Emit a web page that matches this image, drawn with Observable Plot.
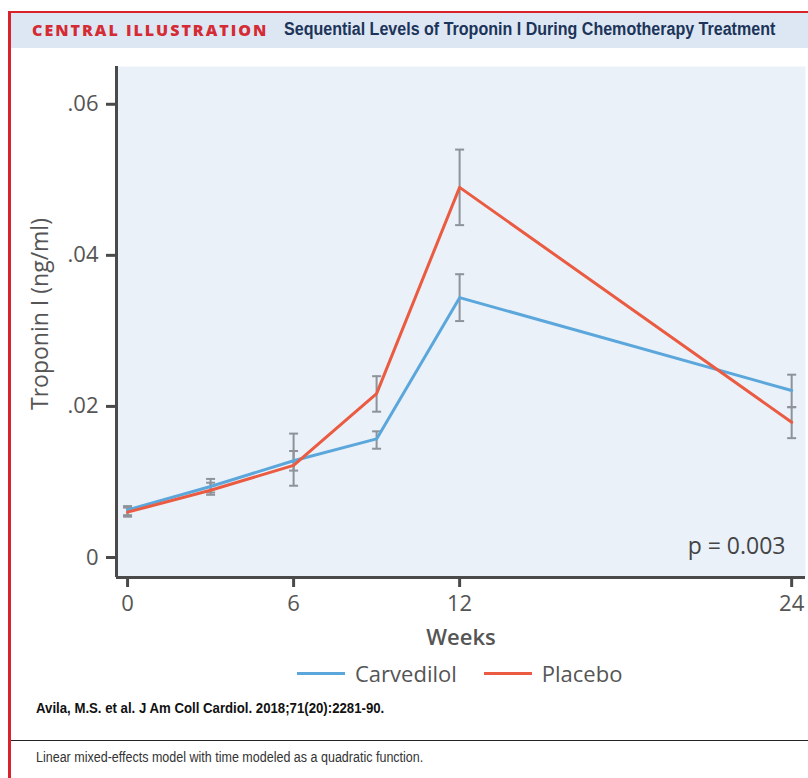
<!DOCTYPE html>
<html><head><meta charset="utf-8">
<script src="https://cdn.jsdelivr.net/npm/d3@7"></script>
<script src="https://cdn.jsdelivr.net/npm/@observablehq/plot@0.6"></script>
<style>
body{margin:0;background:#fff;}
#page{position:relative;width:808px;height:778px;overflow:hidden;background:#fff;font-family:"Open Sans",sans-serif;}
#frame{position:absolute;left:8px;top:11px;width:900px;height:900px;border-left:3px solid #d8232a;border-top:2px solid #d8232a;}
#band{position:absolute;left:11px;top:13px;width:797px;height:35px;background:#dce7f3;}
#band .ci{position:absolute;left:21px;top:6px;font-family:"Open Sans",sans-serif;font-weight:800;font-size:16px;letter-spacing:2px;color:#d52b34;white-space:nowrap;}
#band .tt{position:absolute;left:273px;top:6px;font-family:"Liberation Sans",sans-serif;font-weight:700;font-size:17.5px;color:#1c3459;white-space:nowrap;transform:scaleX(0.917);transform-origin:left center;}
#chart{position:absolute;left:0;top:56px;}
#legend{position:absolute;left:297px;top:658px;height:30px;display:flex;align-items:center;font-family:"Open Sans",sans-serif;font-size:22px;color:#555;white-space:nowrap;}
#legend .sw{display:inline-block;width:48px;height:3px;margin-right:10px;}
#legend .it{display:flex;align-items:center;margin-right:27px;}
#cite{position:absolute;left:36px;top:700px;font-family:"Liberation Sans",sans-serif;font-weight:700;font-size:14px;color:#111;white-space:nowrap;transform:scaleX(0.943);transform-origin:left center;}
#rule{position:absolute;left:11px;top:740px;width:797px;height:0;border-top:1.5px solid #222;}
#note{position:absolute;left:36px;top:749px;font-family:"Liberation Sans",sans-serif;font-size:14px;color:#333;white-space:nowrap;transform:scaleX(0.894);transform-origin:left center;}
</style></head><body>
<div id="page">
 <div id="frame"></div>
 <div id="band"><span class="ci">CENTRAL ILLUSTRATION</span><span class="tt">Sequential Levels of Troponin I During Chemotherapy Treatment</span></div>
 <div id="chart"></div>
 <div id="legend"></div>
 <div id="cite">Avila, M.S. et al. J Am Coll Cardiol. 2018;71(20):2281-90.</div>
 <div id="rule"></div>
 <div id="note">Linear mixed-effects model with time modeled as a quadratic function.</div>
</div>
<script>
// ---- data ----
const weeks = [0, 3, 6, 9, 12, 24];
const carvedilol     = [0.0063, 0.0094, 0.0128, 0.0157, 0.0344, 0.0221];
const carvedilolLow  = [0.0056, 0.0086, 0.0115, 0.0144, 0.0313, 0.0199];
const carvedilolHigh = [0.0068, 0.0104, 0.0141, 0.0167, 0.0375, 0.0242];
const placebo        = [0.0060, 0.0089, 0.0122, 0.0217, 0.0490, 0.0179];
const placeboLow     = [0.0054, 0.0083, 0.0095, 0.0193, 0.0440, 0.0158];
const placeboHigh    = [0.0066, 0.0099, 0.0164, 0.0240, 0.0540, 0.0199];
const seriesNames = ["Carvedilol", "Placebo"];
const seriesColors = ["#5ba7dc", "#ea5b41"];
const xTicks = [0, 6, 12, 24];
const yTicks = [0, 0.02, 0.04, 0.06];
const yTickLabels = ["0", ".02", ".04", ".06"];
const xDomain = [-0.4, 24.5];
const yDomain = [-0.00265, 0.065];
const xLabel = "Weeks";
const yLabel = "Troponin I (ng/ml)";
const pValueLabel = "p = 0.003";

// ---- table ----
const seriesData = [[carvedilol, carvedilolLow, carvedilolHigh], [placebo, placeboLow, placeboHigh]];
const rows = [];
seriesNames.forEach((s, si) => {
  const [v, lo, hi] = seriesData[si];
  weeks.forEach((w, i) => rows.push({series: s, week: w, value: v[i], lo: lo[i], hi: hi[i]}));
});

const errColor = "#8e9299";
const axisColor = "#4a4a4a";
const cap = {draw(ctx) { ctx.moveTo(-4.5, 0); ctx.lineTo(4.5, 0); }};

const chart = Plot.plot({
  width: 808, height: 600,
  marginTop: 10, marginBottom: 79, marginLeft: 116, marginRight: 3,
  style: {fontFamily: "Open Sans", fontSize: "22px", color: "#555", background: "transparent"},
  x: {domain: xDomain},
  y: {domain: yDomain},
  color: {domain: seriesNames, range: seriesColors},
  marks: [
    Plot.frame({fill: "#eaf1f9", stroke: null}),
    Plot.ruleX(rows, {x: "week", y1: "lo", y2: "hi", stroke: errColor, strokeWidth: 2}),
    Plot.dot(rows, {x: "week", y: "lo", symbol: cap, r: 4, stroke: errColor, strokeWidth: 2}),
    Plot.dot(rows, {x: "week", y: "hi", symbol: cap, r: 4, stroke: errColor, strokeWidth: 2}),
    Plot.line(rows, {x: "week", y: "value", z: "series", stroke: "series", strokeWidth: 3}),
    Plot.ruleY([yDomain[0]], {stroke: axisColor, strokeWidth: 3}),
    Plot.ruleX([xDomain[0]], {stroke: axisColor, strokeWidth: 3}),
    Plot.axisX({ticks: xTicks, tickSize: 10, tickPadding: 8, tickFormat: d => String(d), label: null, stroke: axisColor, strokeWidth: 3, fill: "#555"}),
    Plot.axisY({ticks: yTicks, tickSize: 10, tickPadding: 8, tickFormat: d => yTickLabels[yTicks.indexOf(d)], label: null, stroke: axisColor, strokeWidth: 3, fill: "#555"}),
    Plot.text([yLabel], {text: d => d, frameAnchor: "left", textAnchor: "middle", rotate: -90, dx: -76, dy: -8, fontSize: 23, fill: "#555"}),
    Plot.text([xLabel], {text: d => d, frameAnchor: "bottom", dy: 67, fontSize: 22, fontWeight: 600, fill: "#555"}),
    Plot.text([pValueLabel], {text: d => d, frameAnchor: "bottom-right", textAnchor: "end", dx: -20, dy: -24, fontSize: 23, fill: "#444"})
  ]
});
document.getElementById("chart").appendChild(chart);

// legend
const legend = document.getElementById("legend");
seriesNames.forEach((s, i) => {
  const it = document.createElement("span");
  it.className = "it";
  const sw = document.createElement("span");
  sw.className = "sw";
  sw.style.background = seriesColors[i];
  it.appendChild(sw);
  it.appendChild(document.createTextNode(s));
  legend.appendChild(it);
});
</script>
</body></html>
